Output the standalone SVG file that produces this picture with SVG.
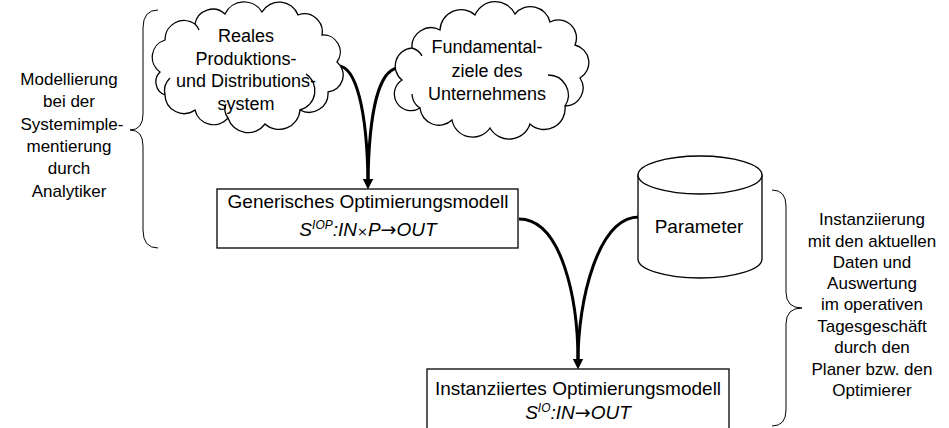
<svg xmlns="http://www.w3.org/2000/svg" width="949" height="428" viewBox="0 0 949 428">
  <defs>
    <marker id="arrow" markerUnits="userSpaceOnUse" markerWidth="11" markerHeight="10" refX="2" refY="5" orient="auto" viewBox="0 0 11 10">
      <path d="M0,0 L10,5 L0,10 Z" fill="#000"/>
    </marker>
    <style>
      text { font-family: "Liberation Sans", Arial, sans-serif; font-size: 17px; fill: #000; text-anchor: middle; }
      .cloudtxt { font-size: 18px; }
      .boxtxt { font-size: 19px; }
      .shape { fill: #fff; stroke: #000; stroke-width: 1.3; }
      .thin { fill: none; stroke: #000; stroke-width: 1.3; }
      .brace { fill: none; stroke: #000; stroke-width: 1; }
      .flow { fill: none; stroke: #000; stroke-width: 3; }
      .it { font-style: italic; }
      .sup { font-size: 12px; font-style: italic; }
      .sym { font-family: "DejaVu Sans", sans-serif; font-style: normal; }
    </style>
  </defs>

  <!-- left brace + label -->
  <g id="label-modellierung">
    <path class="brace" d="M158,10 Q143,10 143,28 L143,114 Q143,130 130,130 Q143,130 143,146 L143,230 Q143,248 158,248"/>
    <text x="69" y="85">Modellierung</text>
    <text x="69" y="107">bei der</text>
    <text x="72" y="130">Systemimple-</text>
    <text x="69" y="152">mentierung</text>
    <text x="69" y="174">durch</text>
    <text x="69" y="197">Analytiker</text>
  </g>

  <!-- right brace + label -->
  <g id="label-instanziierung">
    <path class="brace" d="M772,190 Q786,190 786,206 L786,292 Q786,308 802,308 Q786,308 786,324 L786,410 Q786,426 772,426"/>
    <text x="872" y="225">Instanziierung</text>
    <text x="872" y="247">mit den aktuellen</text>
    <text x="872" y="268">Daten und</text>
    <text x="872" y="289">Auswertung</text>
    <text x="872" y="310">im operativen</text>
    <text x="872" y="332">Tagesgeschäft</text>
    <text x="872" y="353">durch den</text>
    <text x="872" y="375">Planer bzw. den</text>
    <text x="872" y="396">Optimierer</text>
  </g>

  <!-- connectors -->
  <g id="connectors">
    <path class="flow" d="M338,66 C356,66 367,110 368,181" marker-end="url(#arrow)"/>
    <path class="flow" d="M398,68 C378,70 369,115 368,181" marker-end="url(#arrow)"/>
    <path class="flow" d="M519,219 C562,219 578,300 578,361" marker-end="url(#arrow)"/>
    <path class="flow" d="M639,217 C598,217 578,300 578,361" marker-end="url(#arrow)"/>
  </g>

  <!-- cloud: real production and distribution system -->
  <g id="cloud-real-system">
    <path class="shape" d="M160,72 A18,18 0 0 1 165,40 A19,19 0 0 1 195,24 A18,18 0 0 1 225,14 A21,21 0 0 1 262,12 A20,20 0 0 1 298,15 A18,18 0 0 1 322,35 A17,17 0 0 1 337,62 A17,17 0 0 1 328,92 A19,19 0 0 1 300,110 A21,21 0 0 1 265,124 A21,21 0 0 1 228,118 A19,19 0 0 1 195,110 A19,19 0 0 1 165,95 A14,14 0 0 1 160,72 Z"/>
    <path class="thin" d="M165,95 A18,18 0 0 1 170,78"/>
    <path class="thin" d="M300,110 A20,20 0 0 0 306,74"/>
    <path class="thin" d="M228,118 A14,14 0 0 1 226,104"/>
    <path class="thin" d="M195,24 A16,16 0 0 1 199,30"/>
    <text class="cloudtxt" x="246" y="42">Reales</text>
    <text class="cloudtxt" x="246" y="65">Produktions-</text>
    <text class="cloudtxt" x="246" y="87">und Distributions-</text>
    <text class="cloudtxt" x="246" y="110">system</text>
  </g>

  <!-- cloud: fundamental objectives -->
  <g id="cloud-fundamentalziele">
    <path class="shape" d="M402,80 A18,18 0 0 1 412,48 A19,19 0 0 1 440,30 A21,21 0 0 1 475,15 A22,22 0 0 1 515,14 A20,20 0 0 1 550,22 A18,18 0 0 1 575,45 A18,18 0 0 1 580,78 A18,18 0 0 1 565,106 A21,21 0 0 1 530,124 A22,22 0 0 1 490,128 A21,21 0 0 1 452,120 A19,19 0 0 1 420,108 A16,16 0 0 1 402,80 Z"/>
    <path class="thin" d="M420,108 A17,17 0 0 1 412,94"/>
    <path class="thin" d="M565,106 A20,20 0 0 0 548,75"/>
    <path class="thin" d="M412,48 A16,16 0 0 1 422,56"/>
    <text class="cloudtxt" x="487" y="53">Fundamental-</text>
    <text class="cloudtxt" x="487" y="77">ziele des</text>
    <text class="cloudtxt" x="487" y="100">Unternehmens</text>
  </g>

  <!-- generic optimization model -->
  <g id="generic-model">
    <rect class="shape" x="217" y="189" width="301" height="59"/>
    <text class="boxtxt" x="368" y="208">Generisches Optimierungsmodell</text>
    <text class="boxtxt" x="368" y="236"><tspan class="it">S</tspan><tspan class="sup" dy="-7">IOP</tspan><tspan class="it" dy="7">:IN</tspan><tspan class="sym" font-size="13">×</tspan><tspan class="it">P</tspan><tspan class="sym">→</tspan><tspan class="it">OUT</tspan></text>
  </g>

  <!-- parameter store -->
  <g id="parameter">
    <path class="shape" d="M638,175 L638,259 A62,19 0 0 0 762,259 L762,175 Z"/>
    <ellipse class="shape" cx="700" cy="175" rx="62" ry="19"/>
    <text class="boxtxt" x="699" y="233">Parameter</text>
  </g>

  <!-- instantiated optimization model -->
  <g id="instantiated-model">
    <rect class="shape" x="427" y="369" width="302" height="80"/>
    <text class="boxtxt" x="578" y="395">Instanziiertes Optimierungsmodell</text>
    <text class="boxtxt" x="578" y="419"><tspan class="it">S</tspan><tspan class="sup" dy="-7">IO</tspan><tspan class="it" dy="7">:IN</tspan><tspan class="sym">→</tspan><tspan class="it">OUT</tspan></text>
  </g>
</svg>
